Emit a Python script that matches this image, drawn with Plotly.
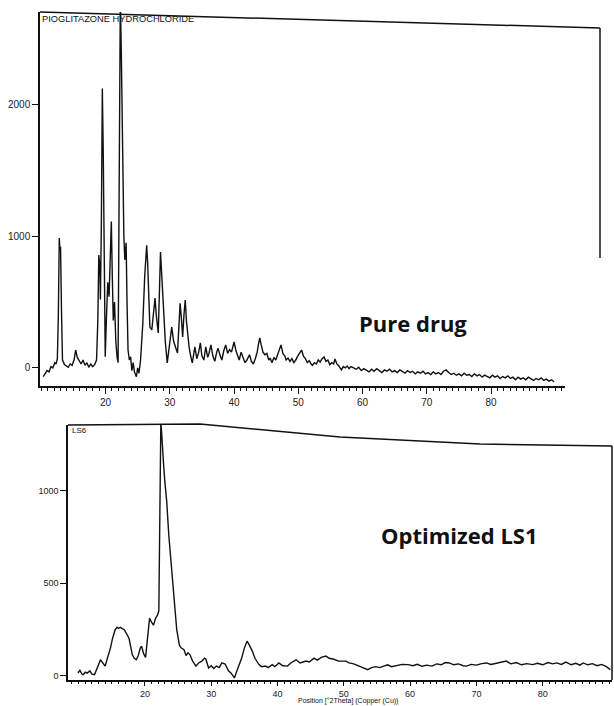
import plotly.graph_objects as go

W, H = 614, 706

# ---------------- data: Pure drug (Pioglitazone HCl) ----------------
pure_two_theta = [
    10.3, 10.6, 10.9, 11.2, 11.5, 11.8, 12.1, 12.3, 12.5, 12.65, 12.8, 12.9, 13.0, 13.15, 13.3,
    13.6, 13.9, 14.2, 14.5, 14.8, 15.1, 15.35, 15.6, 15.9, 16.2, 16.5, 16.8, 17.1, 17.4, 17.7,
    18.0, 18.3, 18.6, 18.8, 18.95, 19.1, 19.2, 19.35, 19.5, 19.65, 19.8, 19.95, 20.15, 20.35,
    20.55, 20.75, 20.9, 21.05, 21.2, 21.4, 21.6, 21.8, 21.95, 22.15, 22.3, 22.45, 22.65, 22.85,
    23.0, 23.2, 23.35, 23.5, 23.7, 23.9, 24.1, 24.3, 24.5, 24.8, 25.0, 25.2, 25.45, 25.65, 25.8,
    26.1, 26.4, 26.55, 26.75, 26.9, 27.2, 27.45, 27.7, 27.9, 28.2, 28.4, 28.55, 28.75, 29.0,
    29.3, 29.6, 29.9, 30.3, 30.6, 30.9, 31.2, 31.4, 31.6, 31.8, 32.0, 32.2, 32.4, 32.6, 32.8,
    33.0, 33.25, 33.5, 33.9, 34.2, 34.5, 34.75, 35.0, 35.3, 35.6, 35.9, 36.1, 36.4, 36.7, 37.0,
    37.3, 37.5, 37.8, 38.1, 38.4, 38.7, 39.0, 39.3, 39.6, 40.0, 40.3, 40.6, 40.8, 41.1, 41.4,
    41.7, 42.0, 42.4, 42.7, 43.0, 43.3, 43.6, 43.8, 44.0, 44.2, 44.5, 44.8, 45.1, 45.4, 45.6,
    45.9, 46.2, 46.5, 46.8, 47.1, 47.3, 47.6, 47.9, 48.1, 48.4, 48.7, 49.0, 49.3, 49.6, 49.9,
    50.2, 50.5, 50.8, 51.1, 51.4, 51.7, 52.0, 52.2, 52.5, 52.8, 53.1, 53.4, 53.7, 54.0, 54.3,
    54.6, 54.9, 55.2, 55.5, 55.7, 56.0, 56.3, 56.7, 57.0, 57.3, 57.6, 57.9, 58.2, 58.6, 59.0,
    59.4, 59.8, 60.2, 60.6, 61.0, 61.4, 61.8, 62.2, 62.6, 63.0, 63.4, 63.8, 64.2, 64.6, 65.0,
    65.4, 65.8, 66.2, 66.6, 67.0, 67.4, 67.8, 68.2, 68.6, 69.0, 69.4, 69.8, 70.2, 70.6, 71.0,
    71.4, 71.8, 72.2, 72.6, 73.0, 73.4, 73.8, 74.2, 74.6, 75.0, 75.4, 75.8, 76.2, 76.6, 77.0,
    77.4, 77.8, 78.2, 78.6, 79.0, 79.4, 79.8, 80.2, 80.6, 81.0, 81.4, 81.8, 82.2, 82.6, 83.0,
    83.4, 83.8, 84.2, 84.6, 85.0, 85.4, 85.8, 86.2, 86.6, 87.0, 87.4, 87.8, 88.2, 88.6, 89.0,
    89.4, 89.8,
]
pure_intensity = [
    -65, -40, -20, -30, 10, 0, 40, 30, 70, 380, 985, 900, 920, 420, 60,
    25, 15, 5, 30, 20, 60, 136, 80, 50, 30, 60, 20, 40, 5, 30,
    10, 25, 60, 360, 856, 780, 520, 1100, 2120, 1600, 500, 85, 400, 650,
    540, 900, 1110, 700, 360, 500, 200, 80, 40, 1600, 2800, 2400, 1500, 1000,
    820, 950, 480, 136, 60, 85, -20, 40, -30, -66, 0, -40, 60, 200, 340,
    700, 930, 800, 450, 310, 288, 420, 530, 400, 265, 600, 880, 700, 460,
    200, 38, 150, 310, 200, 160, 113, 300, 490, 380, 235, 400, 515, 350, 220,
    160, 90, 38, 160, 70, 120, 190, 90, 60, 160, 80, 110, 175, 90, 50,
    120, 150, 100, 60, 130, 175, 110, 140, 120, 197, 130, 90, 60, 120, 70,
    40, 60, 100, 50, 30, 70, 120, 180, 227, 180, 120, 100, 110, 60, 75,
    40, 80, 60, 110, 150, 175, 110, 90, 60, 75, 50, 70, 40, 60, 90,
    110, 136, 90, 70, 40, 55, 30, 20, 40, 30, 60, 45, 70, 83, 50,
    60, 25, 40, 30, 68, 30, 15, -15, 10, 0, 15, -5, 10, 0, -10,
    5, -20, -5, -15, -30, -10, -25, -5, -20, -35, -15, -25, -10, -30, -20,
    -35, -15, -30, -40, -20, -35, -25, -45, -30, -40, -25, -45, -35, -50, -30,
    -45, -35, -50, -25, -15, -35, -50, -40, -55, -45, -60, -40, -55, -50, -65,
    -45, -60, -50, -70, -55, -65, -75, -55, -70, -60, -80, -65, -75, -60, -80,
    -70, -90, -70, -85, -75, -90, -70, -85, -95, -80, -90, -75, -95, -85, -100,
    -90, -105,
]

# ---------------- data: Optimized LS1 ----------------
ls1_two_theta = [
    9.9, 10.2, 10.5, 10.7, 11.0, 11.3, 11.7, 12.0, 12.4, 12.7, 13.0, 13.3, 13.6, 14.0, 14.3,
    14.6, 14.8, 15.1, 15.3, 15.5, 15.8, 16.0, 16.3, 16.6, 16.9, 17.2, 17.4, 17.6, 17.9, 18.1,
    18.4, 18.7, 19.0, 19.3, 19.5, 19.8, 20.1, 20.4, 20.7, 21.0, 21.3, 21.6, 21.9, 22.1, 22.2,
    22.3, 22.4, 22.5, 22.6, 22.8, 23.0, 23.3, 23.6, 24.0, 24.3, 24.5, 24.8, 25.2, 25.5, 25.9,
    26.2, 26.5, 26.8, 27.2, 27.7, 28.1, 28.6, 29.0, 29.2, 29.6, 30.0, 30.4, 30.8, 31.2, 31.6,
    32.1, 32.6, 33.0, 33.5, 33.8, 34.2, 34.6, 35.0, 35.4, 35.7, 36.0, 36.2, 36.6, 37.2, 37.6,
    38.2, 38.6, 39.2, 39.6, 40.2, 40.8, 41.5, 42.0, 42.8, 43.4, 44.3, 44.8, 45.5, 46.0, 46.6,
    47.3, 47.8, 48.5, 49.2, 50.3, 50.8, 51.5, 52.2, 52.9, 53.6, 54.2, 54.8, 55.4, 55.9, 56.6,
    57.2, 58.0, 58.8, 59.7, 60.4, 61.1, 61.8, 62.5, 63.3, 64.0, 64.7, 65.3, 65.9, 66.6, 67.3,
    68.0, 68.5, 69.2, 70.0, 70.8, 71.5, 72.2, 73.0, 73.8, 74.5, 75.2, 76.0, 76.8, 77.6, 78.5,
    79.2, 80.0, 80.8, 81.5, 82.1, 82.8, 83.5, 84.3, 85.0, 85.6, 86.1, 86.8, 87.5, 88.2, 88.9,
    89.6, 90.2,
]
ls1_intensity = [
    16, 30, 10, 7, 20, 15, 27, 10, 7, 30, 60, 87, 70, 53, 90,
    120, 150, 200, 230, 248, 262, 257, 262, 255, 248, 230, 215, 203, 150, 114,
    95, 87, 110, 150, 160, 120, 100, 200, 310, 290, 274, 310, 328, 350, 700,
    1150, 1360, 1326, 1250, 1150, 1050, 936, 760, 578, 460, 380, 250, 166, 150, 141,
    110, 125, 114, 80, 53, 70, 80, 96, 90, 43, 55, 40, 53, 45, 70,
    64, 27, 15, -11, 20, 60, 96, 150, 187, 170, 150, 134, 95, 61, 50,
    53, 45, 61, 50, 70, 55, 53, 70, 87, 70, 80, 75, 96, 85, 100,
    107, 95, 90, 80, 80, 70, 65, 55, 45, 34, 45, 50, 45, 53, 60,
    50, 55, 62, 61, 55, 63, 52, 58, 53, 65, 60, 72, 70, 60, 65,
    55, 53, 62, 58, 66, 70, 62, 68, 75, 80, 65, 72, 60, 66, 61,
    68, 60, 72, 65, 70, 62, 75, 60, 68, 58, 70, 60, 66, 55, 62,
    50, 34,
]

x_ticks = [20, 30, 40, 50, 60, 70, 80]
pure_y_ticks = [0, 1000, 2000]
ls1_y_ticks = [0, 500, 1000]


def px(x):
    return x / W


def py(y):
    return 1 - y / H


fig = go.Figure()
line_style = dict(color="#111111", width=1.4)
fig.add_trace(go.Scatter(x=pure_two_theta, y=pure_intensity, mode="lines",
                         line=line_style, xaxis="x", yaxis="y", showlegend=False))
fig.add_trace(go.Scatter(x=ls1_two_theta, y=ls1_intensity, mode="lines",
                         line=line_style, xaxis="x2", yaxis="y2", showlegend=False))

tick_font = dict(family="Liberation Sans, Arial, sans-serif", size=10, color="#222222")
tick_font_small = dict(family="Liberation Sans, Arial, sans-serif", size=9, color="#222222")
axis_common = dict(showline=True, linecolor="#111111", linewidth=1.5, showgrid=False,
                   zeroline=False, ticks="outside", tickcolor="#111111", tickwidth=1,
                   mirror=False)

fig.update_layout(
    width=W, height=H,
    margin=dict(l=0, r=0, t=0, b=0),
    paper_bgcolor="white", plot_bgcolor="white",
    xaxis=dict(domain=[px(40), px(565)], range=[9.8, 91.5], anchor="y",
               tickvals=x_ticks, ticklen=6, tickfont=tick_font,
               minor=dict(dtick=1, tick0=0, ticks="outside", ticklen=3, tickcolor="#111111"),
               **axis_common),
    yaxis=dict(domain=[py(386), py(12)], range=[-137, 2700], anchor="x",
               tickvals=pure_y_ticks, ticklen=6, tickfont=tick_font, **axis_common),
    xaxis2=dict(domain=[px(68), px(612)], range=[8.4, 90.45], anchor="y2",
                tickvals=x_ticks, ticklen=4, tickfont=tick_font_small,
                minor=dict(dtick=1, tick0=0, ticks="outside", ticklen=2, tickcolor="#111111"),
                **axis_common),
    yaxis2=dict(domain=[py(680), py(425)], range=[-22, 1353], anchor="x2",
                tickvals=ls1_y_ticks, ticklen=6, tickfont=tick_font_small, **axis_common),
)

# frame borders of the scanned plots (top / right edges)
frame = dict(color="#111111", width=1.5)
fig.add_shape(type="line", xref="paper", yref="paper",
              x0=px(40), y0=py(12), x1=px(600), y1=py(28), line=frame)
fig.add_shape(type="line", xref="paper", yref="paper",
              x0=px(600), y0=py(28), x1=px(600), y1=py(258), line=frame)
path = "M {} {} L {} {} L {} {} L {} {} L {} {}".format(
    px(68), py(425), px(200), py(424), px(340), py(437), px(480), py(444), px(612), py(446))
fig.add_shape(type="path", xref="paper", yref="paper", path=path, line=frame)
fig.add_shape(type="line", xref="paper", yref="paper",
              x0=px(612), y0=py(446), x1=px(612), y1=py(680), line=frame)

# texts
fig.add_annotation(text="PIOGLITAZONE HYDROCHLORIDE", xref="paper", yref="paper",
                   x=px(40), y=py(19), xanchor="left", yanchor="middle", showarrow=False,
                   font=dict(family="Liberation Sans, Arial", size=9.3, color="#111111"))
fig.add_annotation(text="LS6", xref="paper", yref="paper",
                   x=px(70), y=py(431), xanchor="left", yanchor="middle", showarrow=False,
                   font=dict(family="Liberation Sans, Arial", size=8, color="#111111"))
fig.add_annotation(text="Position [°2Theta] (Copper (Cu))", xref="paper", yref="paper",
                   x=px(296), y=py(701), xanchor="left", yanchor="middle", showarrow=False,
                   font=dict(family="Liberation Sans, Arial", size=7, color="#111111"))
fig.add_annotation(text="<b>Pure drug</b>", xref="paper", yref="paper",
                   x=px(413), y=py(323), xanchor="center", yanchor="middle", showarrow=False,
                   font=dict(family="Open Sans, Lato, sans-serif", size=22, color="#111111"))
fig.add_annotation(text="<b>Optimized LS1</b>", xref="paper", yref="paper",
                   x=px(459), y=py(535), xanchor="center", yanchor="middle", showarrow=False,
                   font=dict(family="Open Sans, Lato, sans-serif", size=22, color="#111111"))

fig.write_html("out.html")
